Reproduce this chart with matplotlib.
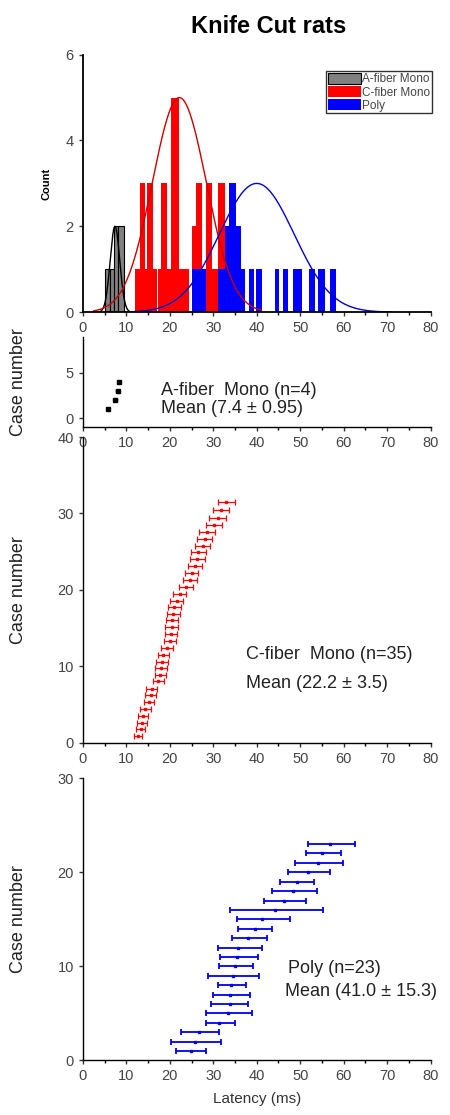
import numpy as np
import matplotlib
matplotlib.use('Agg')
import matplotlib.pyplot as plt
from matplotlib.patches import Patch

plt.rcParams['font.family'] = ['Liberation Sans', 'DejaVu Sans']

# histogram bars (left edge, right edge, count)
a_left = [5.1, 6.2, 7.1, 8.0]
a_right = [6.2, 7.1, 8.0, 9.5]
a_count = [1, 1, 2, 2]

c_left = [12.0, 13.1, 14.3, 14.8, 16.2, 17.2, 17.9, 19.3, 20.3, 22.2,
          25.2, 26.1, 27.3, 28.4, 29.6, 31.1]
c_right = [13.1, 14.3, 14.8, 16.2, 17.0, 17.9, 19.3, 20.3, 22.2, 24.4,
           26.1, 27.3, 28.4, 29.6, 31.1, 32.6]
c_count = [1, 3, 1, 3, 1, 1, 3, 1, 5, 1,
           2, 3, 1, 3, 1, 3]

p_left = [25.2, 31.0, 32.6, 33.7, 35.3, 36.4, 38.2, 39.8, 44.1, 46.0,
          48.3, 52.0, 54.2, 56.9]
p_right = [28.4, 32.6, 33.7, 35.3, 36.4, 37.2, 39.4, 41.3, 45.2, 47.1,
           50.4, 53.3, 55.8, 58.3]
p_count = [1, 1, 2, 3, 2, 1, 1, 1, 1, 1,
           1, 1, 1, 1]

# gaussian fits: mean, sd, peak, drawn range
fit_a = (7.4, 1.1, 2.0, 3.0, 11.0)
fit_c = (22.2, 6.2, 5.0, 2.5, 41.0)
fit_p = (40.0, 8.6, 3.0, 9.0, 71.0)

# A-fiber cases
a_lat = [5.8, 7.5, 8.0, 8.3]
a_case = [1, 2, 3, 4]
a_err = [0.3, 0.3, 0.3, 0.3]

# C-fiber cases
c_lat = [12.7, 13.3, 13.6, 13.9, 14.4, 15.2, 15.6, 15.8, 17.4, 17.8,
         18.0, 18.2, 18.5, 19.4, 20.0, 20.3, 20.5, 20.6, 20.8, 21.0,
         21.6, 22.3, 23.8, 24.6, 25.0, 25.8, 26.3, 26.6, 27.6, 28.0,
         28.5, 30.2, 31.0, 31.8, 33.0]
c_case = [0.8, 1.8, 2.6, 3.5, 4.4, 5.3, 6.2, 7.0, 8.0, 8.9,
          9.8, 10.6, 11.5, 12.4, 13.3, 14.2, 15.1, 16.0, 16.9, 17.7,
          18.6, 19.5, 20.4, 21.3, 22.2, 23.1, 24.0, 24.9, 25.8, 26.7,
          27.6, 28.5, 29.4, 30.4, 31.5]
c_err = [1.0, 1.1, 1.1, 1.2, 1.2, 1.2, 1.3, 1.2, 1.3, 1.3,
         1.3, 1.4, 1.3, 1.4, 1.4, 1.4, 1.5, 1.4, 1.5, 1.5,
         1.5, 1.5, 1.6, 1.6, 1.6, 1.6, 1.7, 1.7, 1.7, 1.8,
         1.8, 1.8, 1.9, 1.9, 2.0]

# Poly cases (centre, left end, right end)
p_lat = [24.8, 25.7, 26.8, 31.4, 33.3, 33.8, 33.8, 34.1, 34.5, 35.1,
         35.5, 35.8, 38.1, 39.6, 41.2, 44.3, 46.3, 48.4, 49.3, 51.8,
         54.0, 55.1, 56.8]
p_lo = [21.4, 20.2, 22.5, 28.4, 28.4, 29.4, 29.9, 31.0, 28.7, 31.4,
        31.6, 31.0, 34.2, 35.7, 35.5, 33.8, 41.6, 43.6, 45.3, 47.3,
        48.7, 51.3, 51.8]
p_hi = [28.4, 31.7, 31.4, 35.0, 38.8, 38.0, 38.4, 37.6, 40.6, 39.1,
        40.2, 41.2, 42.4, 43.6, 47.6, 55.3, 51.3, 53.8, 53.1, 56.8,
        59.9, 59.4, 62.5]
p_case = list(range(1, 24))

fig = plt.figure(figsize=(4.5, 11.15), dpi=100)
L, W = 0.184, 0.773
ax1 = fig.add_axes([L, 0.720, W, 0.231])
ax2 = fig.add_axes([L, 0.617, W, 0.081])
ax3 = fig.add_axes([L, 0.334, W, 0.274])
ax4 = fig.add_axes([L, 0.049, W, 0.253])

fig.text(0.598, 0.976, 'Knife Cut rats', ha='center', va='center',
         fontsize=17, fontweight='bold')

# histogram
ax1.bar(c_left, c_count, width=np.subtract(c_right, c_left), align='edge',
        color='#ff0000', linewidth=0)
ax1.bar(p_left, p_count, width=np.subtract(p_right, p_left), align='edge',
        color='#0000ff', linewidth=0)
ax1.bar(a_left, a_count, width=np.subtract(a_right, a_left), align='edge',
        color='#808080', edgecolor='black', linewidth=0.8)
for (m, s, pk, x0, x1), col in [(fit_a, 'black'), (fit_c, '#cc0000'),
                                 (fit_p, '#0000cc')]:
    xx = np.linspace(x0, x1, 300)
    ax1.plot(xx, pk * np.exp(-0.5 * ((xx - m) / s) ** 2), color=col, lw=1)
ax1.set_ylim(0, 6)
ax1.set_yticks([0, 2, 4, 6])
ax1.set_ylabel('Count', fontsize=8, fontweight='bold')
ax1.yaxis.set_label_coords(-0.09, 0.5)
handles = [Patch(facecolor='#808080', edgecolor='black', lw=0.8),
           Patch(facecolor='#ff0000'), Patch(facecolor='#0000ff')]
leg = ax1.legend(handles, ['A-fiber Mono', 'C-fiber Mono', 'Poly'],
                 loc='upper right', bbox_to_anchor=(1.003, 0.935),
                 fontsize=8.5, frameon=True, fancybox=False,
                 handlelength=2.8, handleheight=1.1, labelspacing=0.05,
                 handletextpad=0.15, borderpad=0.1, borderaxespad=0)
leg.get_frame().set_edgecolor('black')
leg.get_frame().set_linewidth(1)
for t in leg.get_texts():
    t.set_color('#444444')

# A-fiber
ax2.errorbar(a_lat, a_case, xerr=a_err, fmt='s', ms=2.5, color='black',
             elinewidth=1, capsize=1.2)
ax2.set_ylim(-1, 9)
ax2.set_yticks([0, 5])
ax2.text(18, 3.1, 'A-fiber  Mono (n=4)', fontsize=13, va='center',
         color='#222222')
ax2.text(18, 1.0, 'Mean (7.4 \u00b1 0.95)', fontsize=13, va='center',
         color='#222222')

# C-fiber
ax3.errorbar(c_lat, c_case, xerr=c_err, fmt='s', ms=1.8, color='red',
             elinewidth=0.9, capsize=2.2, capthick=0.9)
ax3.set_ylim(0, 40)
ax3.set_yticks([0, 10, 20, 30, 40])
ax3.text(37.5, 11.5, 'C-fiber  Mono (n=35)', fontsize=13, va='center',
         color='#222222')
ax3.text(37.5, 7.8, 'Mean (22.2 \u00b1 3.5)', fontsize=13, va='center',
         color='#222222')

# Poly
p_lat_a = np.array(p_lat)
perr = [p_lat_a - np.array(p_lo), np.array(p_hi) - p_lat_a]
ax4.errorbar(p_lat, p_case, xerr=perr, fmt='s', ms=1.8, color='#0000ee',
             elinewidth=1.3, capsize=2.5, capthick=1.3)
ax4.set_ylim(0, 30)
ax4.set_yticks([0, 10, 20, 30])
ax4.text(47.1, 9.8, 'Poly (n=23)', fontsize=13, va='center',
         color='#222222')
ax4.text(46.4, 7.3, 'Mean (41.0 \u00b1 15.3)', fontsize=13, va='center',
         color='#222222')
ax4.set_xlabel('Latency (ms)', fontsize=11, labelpad=6, color='#333333')

for ax in (ax2, ax3, ax4):
    ax.set_ylabel('Case number', fontsize=13, color='#222222')
    ax.yaxis.set_label_coords(-0.16, 0.5)

for ax in (ax1, ax2, ax3, ax4):
    ax.patch.set_visible(False)
    ax.set_xlim(0, 80)
    ax.set_xticks(range(0, 81, 10))
    ax.set_xticks(range(5, 80, 10), minor=True)
    ax.spines['top'].set_visible(False)
    ax.spines['right'].set_visible(False)
    ax.spines['left'].set_linewidth(1.3)
    ax.spines['bottom'].set_linewidth(1.3)
    ax.tick_params(direction='out', length=3, width=1, labelsize=10.5,
                   colors='#333333', labelcolor='#444444')
    ax.tick_params(which='minor', direction='out', length=2, width=1)
for ax in (ax2, ax3, ax4):
    ax.spines['left'].set_linewidth(1.0)
    ax.spines['bottom'].set_linewidth(1.0)

fig.savefig('out.png', dpi=100)
